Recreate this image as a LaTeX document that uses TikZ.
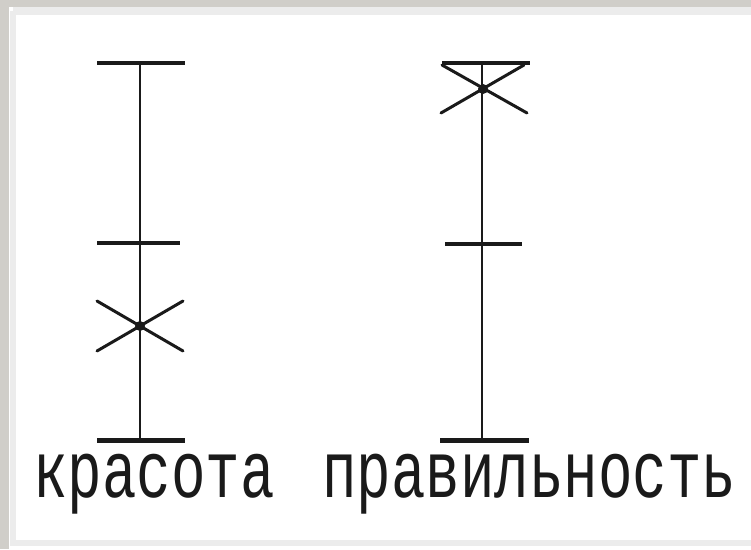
\documentclass[tikz,border=0pt]{standalone}
\usepackage{fontspec}
\setmonofont{Liberation Mono}
\usepackage{tikz}
\usetikzlibrary{positioning,calc}
\definecolor{Frame}{HTML}{D0CEC9}
\definecolor{Bevel}{HTML}{ECECEC}
\definecolor{Ink}{HTML}{1A1A1A}
\tikzset{
  axisline/.style={draw=Ink, line width=2.8pt},
  tickmark/.style={draw=Ink, line width=3.2pt},
  basetick/.style={draw=Ink, line width=5pt},
  crossarm/.style={draw=Ink, line width=3pt, line cap=round},
  scalelabel/.style={anchor=base west, inner sep=0pt, text=Ink, yscale=1.4,
    font=\ttfamily\fontsize{57.5}{62}\selectfont}
}

\begin{document}
\begin{tikzpicture}[x=1pt,y=-1pt]
\useasboundingbox (0,0) rectangle (751,549);
% background panel
\fill[Frame] (0,0) rectangle (751,549);
\fill[white] (9,7) rectangle (751,549);
\draw[Bevel, line width=8pt] (13,11) -- (751,11);
\draw[Bevel, line width=6pt] (13,11) -- (13,543) -- (751,543);

% left scale
\coordinate (ltop) at (140,63);
\coordinate (lmid) at (140,243);
\coordinate (lbot) at (140,440);
\coordinate (lmark) at (140,326);
\draw[axisline] (ltop) -- (lbot);
\draw[tickmark] ($(ltop)+(-43,0)$) -- ($(ltop)+(45,0)$);
\draw[tickmark] ($(lmid)+(-43,0)$) -- ($(lmid)+(40,0)$);
\draw[basetick] ($(lbot)+(-43,0)$) -- ($(lbot)+(45,0)$);
\draw[crossarm] ($(lmark)+(-43,-25)$) -- ($(lmark)+(43,25)$);
\draw[crossarm] ($(lmark)+(-43,25)$) -- ($(lmark)+(43,-25)$);
\fill[Ink] (lmark) circle (5pt);
\node[scalelabel] (lname) at (33,497) {красота};

% right scale
\coordinate (rtop) at (482,63);
\coordinate (rmid) at (482,244);
\coordinate (rbot) at (482,440);
\coordinate (rmark) at (483,89);
\draw[axisline] (rtop) -- (rbot);
\draw[tickmark] ($(rtop)+(-40,0)$) -- ($(rtop)+(48,0)$);
\draw[tickmark] ($(rmid)+(-37,0)$) -- ($(rmid)+(40,0)$);
\draw[basetick] ($(rbot)+(-42,0)$) -- ($(rbot)+(47,0)$);
\draw[crossarm] ($(rmark)+(-42,24)$) -- ($(rmark)+(41,-24)$);
\draw[crossarm] ($(rmark)+(-41,-24)$) -- ($(rmark)+(44,24)$);
\fill[Ink] (rmark) circle (5pt);
\node[scalelabel] (rname) at (322,497) {правильность};
\end{tikzpicture}
\end{document}
